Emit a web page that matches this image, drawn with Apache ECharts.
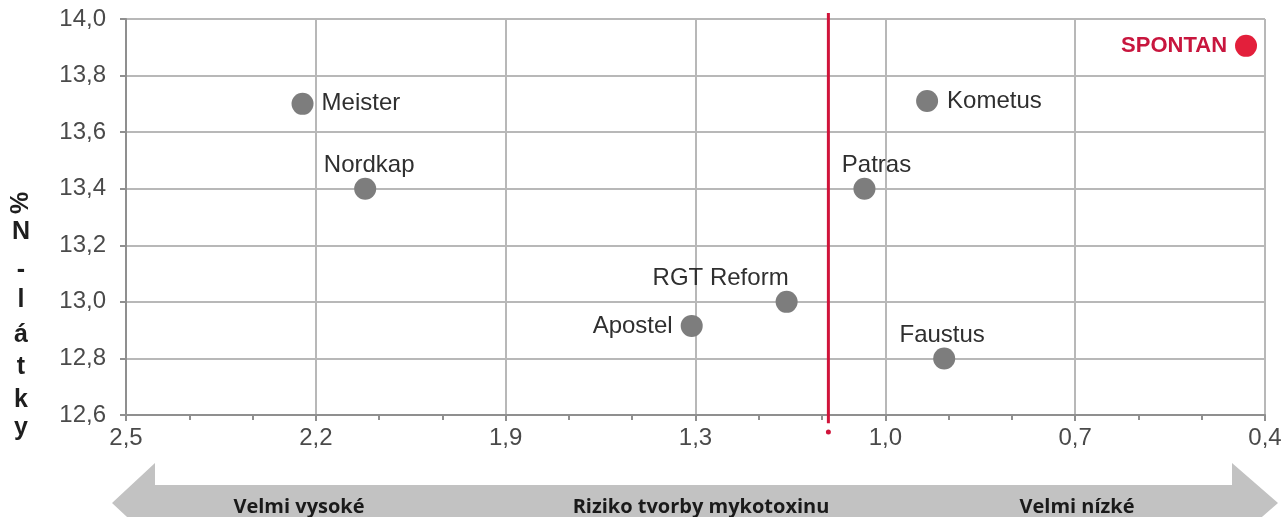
<!DOCTYPE html>
<html><head><meta charset="utf-8">
<script src="https://cdn.jsdelivr.net/npm/echarts@6/dist/echarts.min.js"></script>
<style>html,body{margin:0;padding:0;background:#fff}#c{width:1286px;height:517px}</style>
</head><body><div id="c"></div>
<script>
// ---- data ----
const xTickLabels = ['2,5', '2,2', '1,9', '1,3', '1,0', '0,7', '0,4'];
const varieties = ['Meister', 'Nordkap', 'Apostel', 'RGT Reform', 'Patras', 'Kometus', 'Faustus'];
const riskPos = [0.93, 1.26, 2.98, 3.48, 3.89, 4.22, 4.31];   // position along the risk axis (tick index units)
const nContent = [13.70, 13.40, 12.915, 13.00, 13.40, 13.71, 12.80];
const highlightName = 'SPONTAN';
const highlightPos = 5.90;
const highlightN = 13.905;
const thresholdPos = 3.70;
const yTickMin = 12.6, yTickMax = 14.0, yTickStep = 0.2;
const yAxisNameChars = ['%', 'N', '-', 'l', 'á', 't', 'k', 'y'];
const arrowTexts = ['Velmi vysoké', 'Riziko tvorby mykotoxinu', 'Velmi nízké'];

// ---- styles (not data) ----
const labelCfg = {
  'Meister': {position: 'right', distance: 8},
  'Nordkap': {position: 'top', distance: 0, offset: [4, 0]},
  'Apostel': {position: 'left', distance: 8},
  'RGT Reform': {position: 'top', distance: 0, offset: [-66, 0]},
  'Patras': {position: 'top', distance: 0, offset: [12, 0]},
  'Kometus': {position: 'right', distance: 9},
  'Faustus': {position: 'top', distance: 0, offset: [-2, 0]}
};

const chart = echarts.init(document.getElementById('c'), null, {renderer: 'canvas'});
const FONT = 'Liberation Sans';
const gridL = 126, gridR = 21, gridT = 19, gridB = 102;

const pts = varieties.map((n, i) => ({
  name: n,
  value: [riskPos[i], nContent[i]],
  label: Object.assign({show: true, formatter: n, color: '#2f2f2f', fontSize: 24, fontFamily: FONT}, labelCfg[n])
}));

const nameYs = [203, 232, 270, 300, 335, 367, 400, 428];
const nameGraphics = yAxisNameChars.map((ch, i) => ({
  type: 'text', x: 21, y: nameYs[i], rotation: i === 0 ? Math.PI / 2 : 0,
  style: {text: ch, font: 'bold 25px "' + FONT + '"', fill: '#1e1e1e', align: 'center', verticalAlign: 'middle'}
}));

const arrowX = [299, 701, 1077];
const arrowGraphics = [{
  type: 'polygon', z: 0,
  shape: {points: [[112, 503], [155, 463], [155, 485], [1232, 485], [1232, 463], [1278, 503], [1232, 543], [1232, 560], [155, 560], [155, 543]]},
  style: {fill: '#c2c2c2'}
}].concat(arrowTexts.map((t, i) => ({
  type: 'text', x: arrowX[i], y: 507, z: 1,
  style: {text: t, font: 'bold 20px "Open Sans"', fill: '#1a1a1a', align: 'center', verticalAlign: 'middle'}
})));

chart.setOption({
  animation: false,
  backgroundColor: '#fff',
  grid: {left: gridL, right: gridR, top: gridT, bottom: gridB, containLabel: false},
  xAxis: {
    type: 'value', min: 0, max: xTickLabels.length - 1, interval: 1,
    axisLine: {show: true, onZero: false, lineStyle: {color: '#8f8f8f', width: 2}},
    axisTick: {show: true, length: 6, lineStyle: {color: '#8f8f8f', width: 2}},
    minorTick: {show: true, splitNumber: 3, length: 5, lineStyle: {color: '#8f8f8f', width: 2}},
    splitLine: {show: true, lineStyle: {color: '#b8b8b8', width: 2}},
    axisLabel: {
      margin: 11, fontSize: 24, fontFamily: FONT, color: '#4a4a4a',
      formatter: v => xTickLabels[Math.round(v)] || ''
    }
  },
  yAxis: {
    type: 'value', min: yTickMin, max: yTickMax, interval: yTickStep,
    axisLine: {show: true, onZero: false, lineStyle: {color: '#8f8f8f', width: 2}},
    axisTick: {show: true, length: 6, lineStyle: {color: '#8f8f8f', width: 2}},
    splitLine: {show: true, lineStyle: {color: '#b8b8b8', width: 2}},
    axisLabel: {
      margin: 20, fontSize: 24, fontFamily: FONT, color: '#4a4a4a',
      formatter: v => v.toFixed(1).replace('.', ',')
    }
  },
  series: [
    {
      type: 'line', clip: false, symbol: 'none', silent: true, z: 3,
      lineStyle: {color: '#d0143a', width: 3},
      data: [[thresholdPos, 12.571], [thresholdPos, 14.021]]
    },
    {
      type: 'scatter', clip: false, symbolSize: 5, z: 3, silent: true,
      itemStyle: {color: '#d0143a', opacity: 1},
      data: [[thresholdPos, 12.54]]
    },
    {
      type: 'scatter', symbolSize: 22, z: 4,
      itemStyle: {color: '#7d7d7d', opacity: 1},
      data: pts
    },
    {
      type: 'scatter', symbolSize: 22, z: 4,
      itemStyle: {color: '#e31f3b', opacity: 1},
      data: [{
        name: highlightName, value: [highlightPos, highlightN],
        label: {show: true, position: 'left', distance: 8, formatter: highlightName, color: '#c8163e', fontSize: 22, fontWeight: 'bold', fontFamily: FONT}
      }]
    }
  ],
  graphic: nameGraphics.concat(arrowGraphics)
});
</script>
</body></html>
